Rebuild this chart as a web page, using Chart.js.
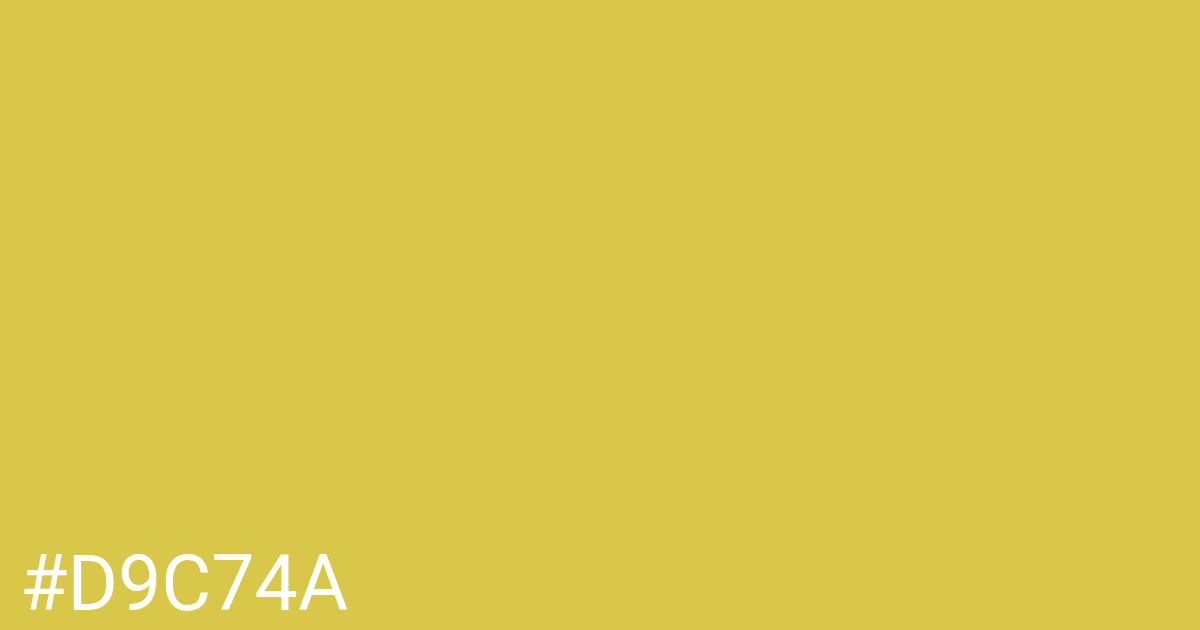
<!DOCTYPE html>
<html>
<head>
<meta charset="utf-8">
<script src="https://cdn.jsdelivr.net/npm/chart.js@4.4.1/dist/chart.umd.min.js"></script>
<style>
  html, body { margin: 0; padding: 0; background: #D9C74A; overflow: hidden; }
  #wrap { width: 1200px; height: 630px; position: relative; }
</style>
</head>
<body>
<div id="wrap"><canvas id="c" width="1200" height="630"></canvas></div>
<script>
const swatchHex = ['#D9C74A'];
const categories = ['swatch'];
const values = [1];

const bgPlugin = {
  id: 'bg',
  beforeDraw(chart) {
    const ctx = chart.ctx;
    ctx.save();
    ctx.fillStyle = swatchHex[0];
    ctx.fillRect(0, 0, chart.width, chart.height);
    ctx.restore();
  }
};

new Chart(document.getElementById('c'), {
  type: 'bar',
  data: {
    labels: categories,
    datasets: [{ data: values, backgroundColor: swatchHex[0], borderWidth: 0 }]
  },
  options: {
    responsive: false,
    animation: false,
    devicePixelRatio: 1,
    layout: { padding: { left: 20, right: 0, top: 0, bottom: 1 } },
    scales: { x: { display: false }, y: { display: false } },
    plugins: {
      legend: { display: false },
      tooltip: { enabled: false },
      title: {
        display: true,
        text: swatchHex[0],
        position: 'bottom',
        align: 'start',
        color: '#FFFFFF',
        font: { family: 'Roboto', size: 77, weight: 'normal', lineHeight: 1 },
        padding: { top: 0, bottom: 0 }
      }
    }
  },
  plugins: [bgPlugin]
});
</script>
</body>
</html>
